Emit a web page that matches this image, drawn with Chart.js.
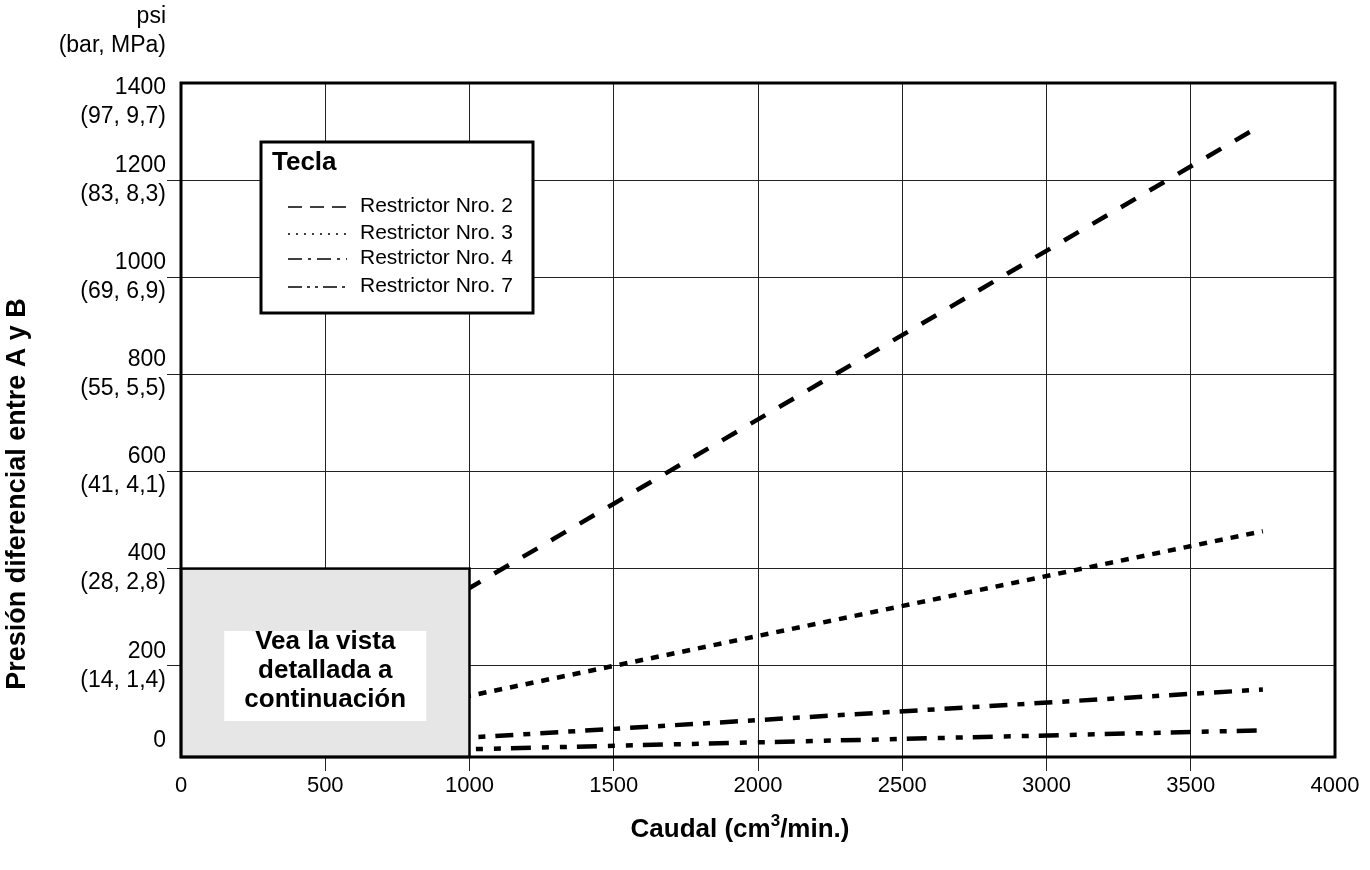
<!DOCTYPE html>
<html>
<head>
<meta charset="utf-8">
<script src="https://cdn.jsdelivr.net/npm/chart.js@4.4.1/dist/chart.umd.min.js"></script>
<style>
  body { margin: 0; background: #fff; }
  canvas { display: block; }
</style>
</head>
<body>
<canvas id="chartCaudal" width="1370" height="870"></canvas>
<script>
// datos
var caudal = [0, 1000, 3750];
var restrictor2 = [12, 360, 1315];
var restrictor3 = [14, 138, 477];
var restrictor4 = [14, 52, 151];
var restrictor7 = [13, 28, 67];
var nombres = ['Restrictor Nro. 2', 'Restrictor Nro. 3', 'Restrictor Nro. 4', 'Restrictor Nro. 7'];

var xTicks = [0, 500, 1000, 1500, 2000, 2500, 3000, 3500, 4000];
var yTicks = [0, 200, 400, 600, 800, 1000, 1200, 1400];
var yTicksPsi = ['0', '200', '400', '600', '800', '1000', '1200', '1400'];
var yTicksBar = ['', '(14, 1,4)', '(28, 2,8)', '(41, 4,1)', '(55, 5,5)', '(69, 6,9)', '(83, 8,3)', '(97, 9,7)'];
var yMin = 12, yMax = 1400;

// zona cubierta por la vista detallada
var detalleX = [0, 1000];
var detalleY = 400;
var detalleTexto = ['Vea la vista', 'detallada a', 'continuación'];

var FONT = '"Liberation Sans", Arial, Helvetica, sans-serif';
var NADA = 'rgba(0,0,0,0)';

var plugTexto = {
    id: 'plugTexto',
    afterDatasetsDraw: function(chart) {
        var ctx = chart.ctx, x = chart.scales.x, y = chart.scales.y;
        var a = chart.chartArea;
        // caja gris
        var x0 = x.getPixelForValue(detalleX[0]), x1 = x.getPixelForValue(detalleX[1]);
        var yt = y.getPixelForValue(detalleY), yb = a.bottom;
        ctx.save();
        ctx.fillStyle = '#e6e6e6';
        ctx.fillRect(x0, yt, x1 - x0, yb - yt);
        ctx.lineWidth = 2.5;
        ctx.strokeStyle = '#000';
        ctx.strokeRect(x0, yt, x1 - x0, yb - yt);
        var cx = (x0 + x1) / 2;
        ctx.fillStyle = '#fff';
        ctx.fillRect(cx - 101, 631, 202, 90);
        ctx.fillStyle = '#000';
        ctx.font = 'bold 26px ' + FONT;
        ctx.textAlign = 'center';
        ctx.textBaseline = 'middle';
        detalleTexto.forEach(function(t, i) {
            ctx.fillText(t, cx, 642 + i * 29);
        });
        // marco
        ctx.lineWidth = 3;
        ctx.strokeRect(a.left, a.top, a.right - a.left, a.bottom - a.top);
        ctx.restore();
    },
    afterDraw: function(chart) {
        var ctx = chart.ctx, y = chart.scales.y, a = chart.chartArea;
        ctx.save();
        ctx.fillStyle = '#000';
        ctx.font = '23px ' + FONT;
        ctx.textAlign = 'right';
        ctx.textBaseline = 'middle';
        var lx = a.left - 15;
        ctx.fillText('psi', lx, 17);
        ctx.fillText('(bar, MPa)', lx, 46);
        yTicks.forEach(function(v, i) {
            var py = y.getPixelForValue(Math.max(v, yMin));
            if (v >= yMax) py += 19;
            if (v <= yMin) py -= 16;
            if (yTicksBar[i] === '') {
                ctx.fillText(yTicksPsi[i], lx, py);
            } else {
                ctx.fillText(yTicksPsi[i], lx, py - 14.5);
                ctx.fillText(yTicksBar[i], lx, py + 14.5);
            }
        });
        // titulo eje x con superindice
        ctx.font = 'bold 26px ' + FONT;
        ctx.textAlign = 'left';
        var p1 = 'Caudal (cm', p2 = '3', p3 = '/min.)';
        var w1 = ctx.measureText(p1).width, w3 = ctx.measureText(p3).width;
        ctx.font = 'bold 17px ' + FONT;
        var w2 = ctx.measureText(p2).width;
        var tx = 740 - (w1 + w2 + w3) / 2, ty = 830;
        ctx.font = 'bold 26px ' + FONT;
        ctx.fillText(p1, tx, ty);
        ctx.fillText(p3, tx + w1 + w2, ty);
        ctx.font = 'bold 17px ' + FONT;
        ctx.fillText(p2, tx + w1, ty - 9);
        // titulo eje y
        ctx.font = 'bold 27px ' + FONT;
        ctx.textAlign = 'center';
        ctx.translate(18, 494);
        ctx.rotate(-Math.PI / 2);
        ctx.fillText('Presión diferencial entre A y B', 0, 0);
        ctx.restore();

        // leyenda "Tecla"
        var bx = a.left + 80, by = a.top + 59, bw = 272, bh = 171;
        ctx.save();
        ctx.fillStyle = '#fff';
        ctx.fillRect(bx, by, bw, bh);
        ctx.lineWidth = 3;
        ctx.strokeStyle = '#000';
        ctx.strokeRect(bx, by, bw, bh);
        ctx.fillStyle = '#000';
        ctx.font = 'bold 26px ' + FONT;
        ctx.textBaseline = 'middle';
        ctx.fillText('Tecla', bx + 11, by + 21);
        ctx.font = '21px ' + FONT;
        var filas = [64, 91, 116, 144];
        chart.data.datasets.forEach(function(ds, i) {
            var ry = by + filas[i];
            ctx.lineWidth = 1.5;
            ctx.setLineDash(ds.legendDash);
            ctx.beginPath();
            ctx.moveTo(bx + 27, ry + 1);
            ctx.lineTo(bx + 86, ry + 1);
            ctx.stroke();
            ctx.setLineDash([]);
            ctx.fillText(ds.label, bx + 99, ry);
        });
        ctx.restore();
    }
};

function serie(nombre, valores, dash, legendDash) {
    return {
        label: nombre,
        data: caudal.map(function(c, i) { return { x: c, y: valores[i] }; }),
        borderColor: '#000',
        borderWidth: 4.5,
        borderDash: dash,
        legendDash: legendDash,
        pointRadius: 0,
        fill: false,
        tension: 0
    };
}

var ctxCaudal = document.getElementById('chartCaudal').getContext('2d');
var chartCaudal = new Chart(ctxCaudal, {
    type: 'line',
    data: {
        datasets: [
            serie(nombres[0], restrictor2, [17, 16], [14, 8]),
            serie(nombres[1], restrictor3, [8, 8], [2, 6]),
            serie(nombres[2], restrictor4, [18, 10, 7, 10], [14, 6, 3, 6]),
            serie(nombres[3], restrictor7, [20, 11, 7, 11, 7, 10], [14, 5, 3, 5, 3, 5])
        ]
    },
    options: {
        responsive: false,
        animation: false,
        layout: { padding: { top: 83, right: 35, left: 0, bottom: 0 } },
        plugins: {
            legend: { display: false },
            tooltip: { enabled: false }
        },
        scales: {
            x: {
                type: 'linear',
                min: 0,
                max: 4000,
                afterBuildTicks: function(scale) {
                    scale.ticks = xTicks.map(function(v) { return { value: v }; });
                },
                afterFit: function(scale) { scale.height = 113; },
                grid: {
                    color: function(c) {
                        var v = c.tick ? c.tick.value : null;
                        return (v === 0 || v === 4000) ? NADA : '#222';
                    },
                    lineWidth: 1,
                    tickLength: 14,
                    drawTicks: true
                },
                border: { display: false },
                ticks: {
                    color: '#000',
                    padding: 2,
                    maxRotation: 0,
                    font: { family: FONT, size: 22 },
                    callback: function(v) { return String(v); }
                }
            },
            y: {
                type: 'linear',
                min: yMin,
                max: yMax,
                afterBuildTicks: function(scale) {
                    scale.ticks = yTicks.filter(function(v) { return v > yMin && v < yMax; })
                        .map(function(v) { return { value: v }; });
                },
                afterFit: function(scale) { scale.width = 181; },
                grid: { color: '#222', lineWidth: 1, tickLength: 14, drawTicks: true },
                border: { display: false },
                ticks: { display: false }
            }
        }
    },
    plugins: [plugTexto]
});
</script>
</body>
</html>
